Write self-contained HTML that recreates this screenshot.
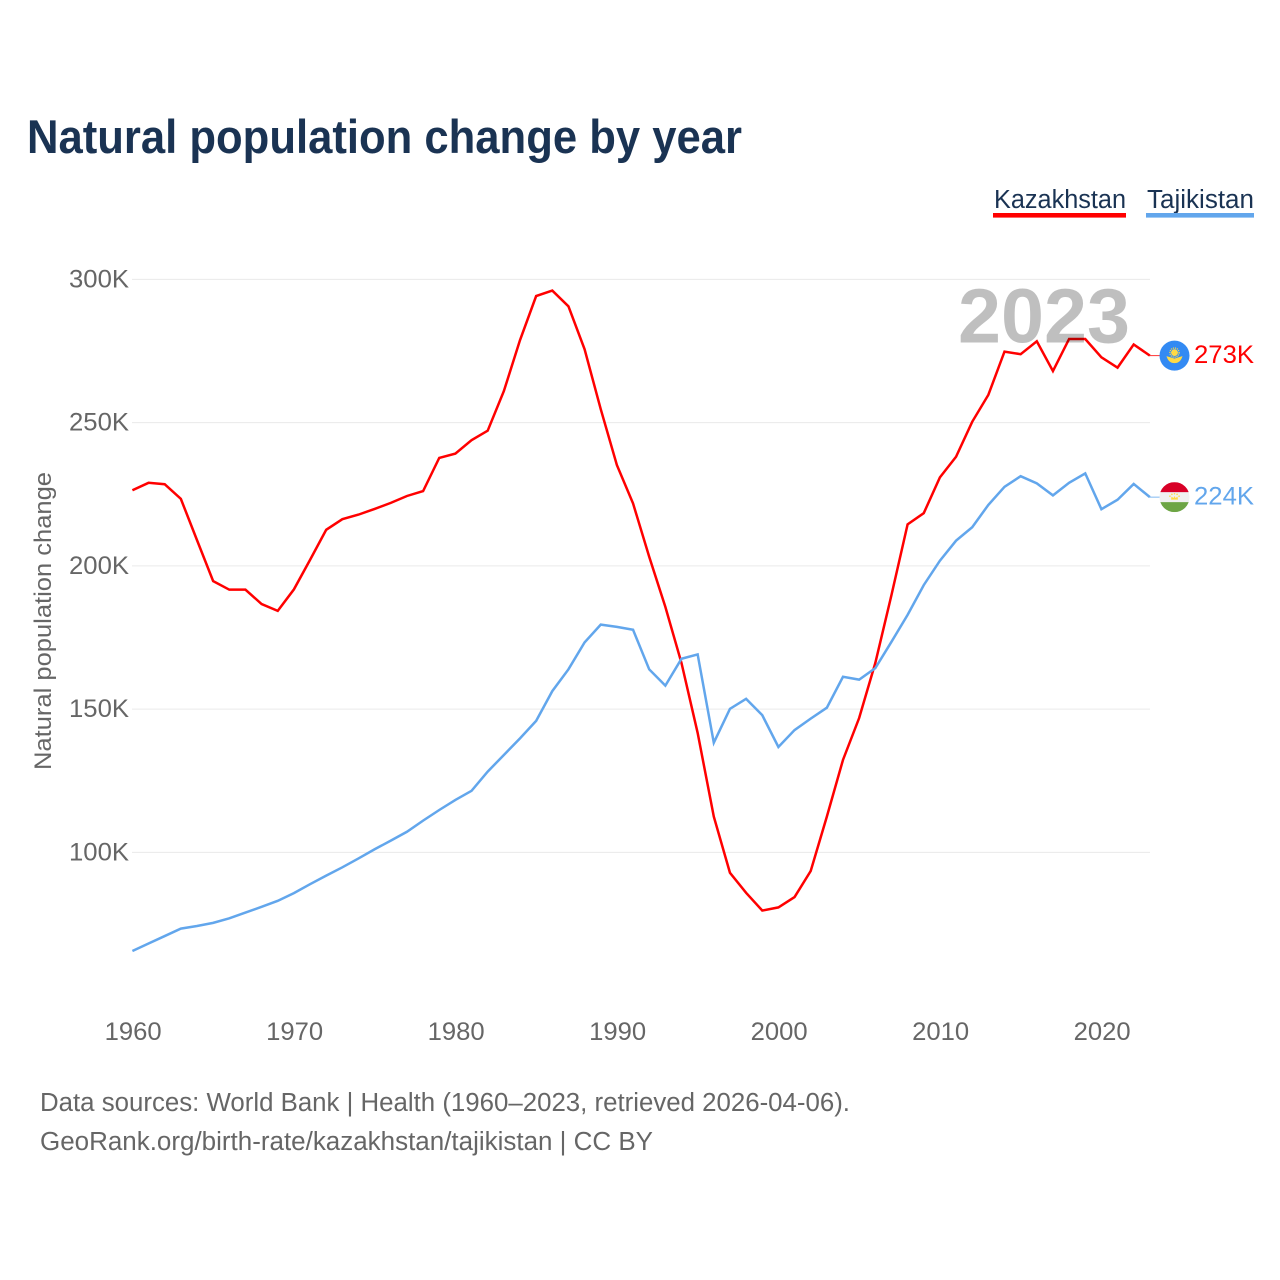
<!DOCTYPE html>
<html lang="en">
<head>
<meta charset="utf-8">
<title>Natural population change by year</title>
<style>
html,body{margin:0;padding:0;background:#fff;}
svg{display:block;}
text{font-family:"Liberation Sans",sans-serif;}
</style>
</head>
<body>
<svg id="chart" xmlns="http://www.w3.org/2000/svg" width="1280" height="1280" viewBox="0 0 1280 1280">
  <rect x="0" y="0" width="1280" height="1280" fill="#ffffff"/>
  <text x="27" y="153" font-size="47" font-weight="700" fill="#1a3353" textLength="715" lengthAdjust="spacingAndGlyphs">Natural population change by year</text>

  <g>
    <g>
      <text x="994" y="208" font-size="25.5" fill="#1a3353" textLength="132" lengthAdjust="spacingAndGlyphs">Kazakhstan</text>
      <rect x="993" y="213" width="133" height="4.6" fill="#ff0000"/>
    </g>
    <g>
      <text x="1147" y="208" font-size="25.5" fill="#1a3353" textLength="107" lengthAdjust="spacingAndGlyphs">Tajikistan</text>
      <rect x="1146" y="213" width="108" height="4.6" fill="#62a6ec"/>
    </g>
  </g>

  <g id="grid"></g>
  <g id="yticks"></g>
  <g id="xticks"></g>
  <text transform="translate(51,621) rotate(-90)" text-anchor="middle" font-size="24.5" fill="#666666" textLength="298" lengthAdjust="spacingAndGlyphs">Natural population change</text>

  <g id="series"></g>
  <text id="yearLabel" x="1130" y="342.5" text-anchor="end" font-size="77" font-weight="700" fill="#000000" fill-opacity="0.25" textLength="172" lengthAdjust="spacingAndGlyphs"></text>

  <defs>
    <clipPath id="tjClip"><circle cx="0" cy="0" r="15"/></clipPath>
  </defs>
  <g id="flagKz">
    <circle cx="0" cy="0" r="15" fill="#338af3"/>
    <circle cx="0" cy="-3" r="3.4" fill="#ffda44"/>
    <circle cx="0" cy="-3" r="4.6" fill="none" stroke="#ffda44" stroke-width="1.2" stroke-dasharray="1.1 0.9"/>
    <path d="M-8 0.5 L-3 2 L0 3 L3 2 L8 0.5 Q6 7.5 0 7.5 Q-6 7.5 -8 0.5Z" fill="#ffda44"/>
  </g>
  <g id="flagTj">
    <g clip-path="url(#tjClip)">
      <rect x="-15" y="-15" width="30" height="30" fill="#f0f0f0"/>
      <rect x="-15" y="-15" width="30" height="10" fill="#d80027"/>
      <rect x="-15" y="5" width="30" height="10" fill="#6da544"/>
    </g>
    <path d="M-3.5 2.5 L-3 -0.5 L-1 0.9 L0 -1.1 L1 0.9 L3 -0.5 L3.5 2.5Z" fill="#ffda44"/>
    <circle cx="-4.6" cy="-1" r="0.8" fill="#ffda44"/>
    <circle cx="-2.6" cy="-2.8" r="0.8" fill="#ffda44"/>
    <circle cx="0" cy="-3.4" r="0.8" fill="#ffda44"/>
    <circle cx="2.6" cy="-2.8" r="0.8" fill="#ffda44"/>
    <circle cx="4.6" cy="-1" r="0.8" fill="#ffda44"/>
  </g>
  <g id="endLabels"></g>

  <g>
    <text x="40" y="1111" font-size="25.5" fill="#666666" textLength="810" lengthAdjust="spacingAndGlyphs">Data sources: World Bank | Health (1960–2023, retrieved 2026-04-06).</text>
    <text x="40" y="1150" font-size="25.5" fill="#666666" textLength="613" lengthAdjust="spacingAndGlyphs">GeoRank.org/birth-rate/kazakhstan/tajikistan | CC BY</text>
  </g>
</svg>

<script>
const startYear = 1960;
const endYear = 2023;
const yTickValues = [100, 150, 200, 250, 300];
const yTickLabels = ["100K", "150K", "200K", "250K", "300K"];
const xTickValues = [1960, 1970, 1980, 1990, 2000, 2010, 2020];
const xTickLabels = ["1960", "1970", "1980", "1990", "2000", "2010", "2020"];
const kazakhstanValues = [
  226.4, 229.0, 228.5, 223.4, 209.0, 194.7, 191.7, 191.7, 186.7, 184.3,
  191.8, 202.1, 212.6, 216.3, 217.9, 219.9, 222.0, 224.4, 226.1, 237.7,
  239.2, 243.9, 247.2, 261.0, 278.8, 294.2, 296.1, 290.6, 275.6, 254.7,
  235.2, 221.8, 203.2, 185.7, 166.1, 141.7, 112.5, 92.9, 85.9, 79.7,
  80.8, 84.4, 93.5, 112.5, 132.3, 146.9, 166.1, 189.8, 214.5, 218.4,
  230.9, 238.1, 250.3, 259.7, 274.8, 273.9, 278.4, 268.0, 279.2, 279.2,
  272.8, 269.2, 277.3, 273.4
];
const tajikistanValues = [
  65.6, 68.2, 70.8, 73.4, 74.3, 75.4, 77.0, 79.0, 81.0, 83.1,
  85.8, 88.9, 91.9, 94.8, 97.9, 101.1, 104.1, 107.2, 111.1, 114.8,
  118.3, 121.5, 128.2, 134.0, 139.8, 145.9, 156.3, 163.9, 173.3, 179.5,
  178.7, 177.7, 163.9, 158.2, 167.6, 169.1, 138.3, 150.1, 153.6, 147.9,
  136.8, 142.7, 146.7, 150.5, 161.3, 160.3, 164.3, 173.5, 182.9, 193.3,
  201.8, 208.8, 213.5, 221.3, 227.6, 231.3, 228.8, 224.6, 229.0, 232.3,
  219.8, 223.1, 228.6, 224.0
];

const NS = "http://www.w3.org/2000/svg";
const xScale = function (year) { return 132.4 + (year - 1960) * 16.15; };
const yScale = function (value) { return 279.4 + (300 - value) * 2.865; };

function make(tag, parent, attrs) {
  const el = document.createElementNS(NS, tag);
  Object.keys(attrs).forEach(function (k) { el.setAttribute(k, attrs[k]); });
  parent.appendChild(el);
  return el;
}

const grid = document.getElementById("grid");
const yticks = document.getElementById("yticks");
yTickValues.forEach(function (v, i) {
  const line = make("line", grid, { x1: 132, x2: 1150, y1: yScale(v), y2: yScale(v), stroke: "#eaeaea", "stroke-width": 1 });
  
  
  const t = make("text", yticks, { x: 129, y: yScale(v) + 8, "text-anchor": "end", "font-size": 25, fill: "#666666", textLength: 60, lengthAdjust: "spacingAndGlyphs" });
  
  
  t.textContent = yTickLabels[i];
});

const xticks = document.getElementById("xticks");
xTickValues.forEach(function (v, i) {
  const t = make("text", xticks, { x: xScale(v) + 0.8, y: 1040, "text-anchor": "middle", "font-size": 25, fill: "#666666", textLength: 57, lengthAdjust: "spacingAndGlyphs" });
  
  
  t.textContent = xTickLabels[i];
});

function pointsFor(values) {
  return values.map(function (v, i) {
    return xScale(startYear + i).toFixed(2) + "," + yScale(v).toFixed(2);
  }).join(" ");
}

const series = document.getElementById("series");
const endLabels = document.getElementById("endLabels");

const kzLine = make("polyline", series, { points: pointsFor(kazakhstanValues), fill: "none", stroke: "#ff0000", "stroke-width": 2.5, "stroke-linejoin": "miter" });



const tjLine = make("polyline", series, { points: pointsFor(tajikistanValues), fill: "none", stroke: "#62a6ec", "stroke-width": 2.5, "stroke-linejoin": "miter" });



const kzLast = kazakhstanValues[kazakhstanValues.length - 1];
const tjLast = tajikistanValues[tajikistanValues.length - 1];
const endX = xScale(endYear);

const kzConnector = make("line", series, { x1: endX, x2: 1160, y1: yScale(kzLast), y2: yScale(kzLast), stroke: "#ff0000", "stroke-width": 1, "stroke-opacity": 0.8 });



const tjConnector = make("line", series, { x1: endX, x2: 1160, y1: yScale(tjLast), y2: yScale(tjLast), stroke: "#62a6ec", "stroke-width": 1, "stroke-opacity": 0.8 });



document.getElementById("flagKz").setAttribute("transform", "translate(1174.5," + yScale(kzLast).toFixed(2) + ")");
document.getElementById("flagTj").setAttribute("transform", "translate(1174.5," + yScale(tjLast).toFixed(2) + ")");

const kzLabel = make("text", endLabels, { x: 1194, y: yScale(kzLast) + 7.5, "font-size": 25, fill: "#ff0000", textLength: 60, lengthAdjust: "spacingAndGlyphs" });


kzLabel.textContent = Math.round(kzLast) + "K";

const tjLabel = make("text", endLabels, { x: 1194, y: yScale(tjLast) + 7.5, "font-size": 25, fill: "#62a6ec", textLength: 60, lengthAdjust: "spacingAndGlyphs" });


tjLabel.textContent = Math.round(tjLast) + "K";

document.getElementById("yearLabel").textContent = String(endYear);
</script>
</body>
</html>
